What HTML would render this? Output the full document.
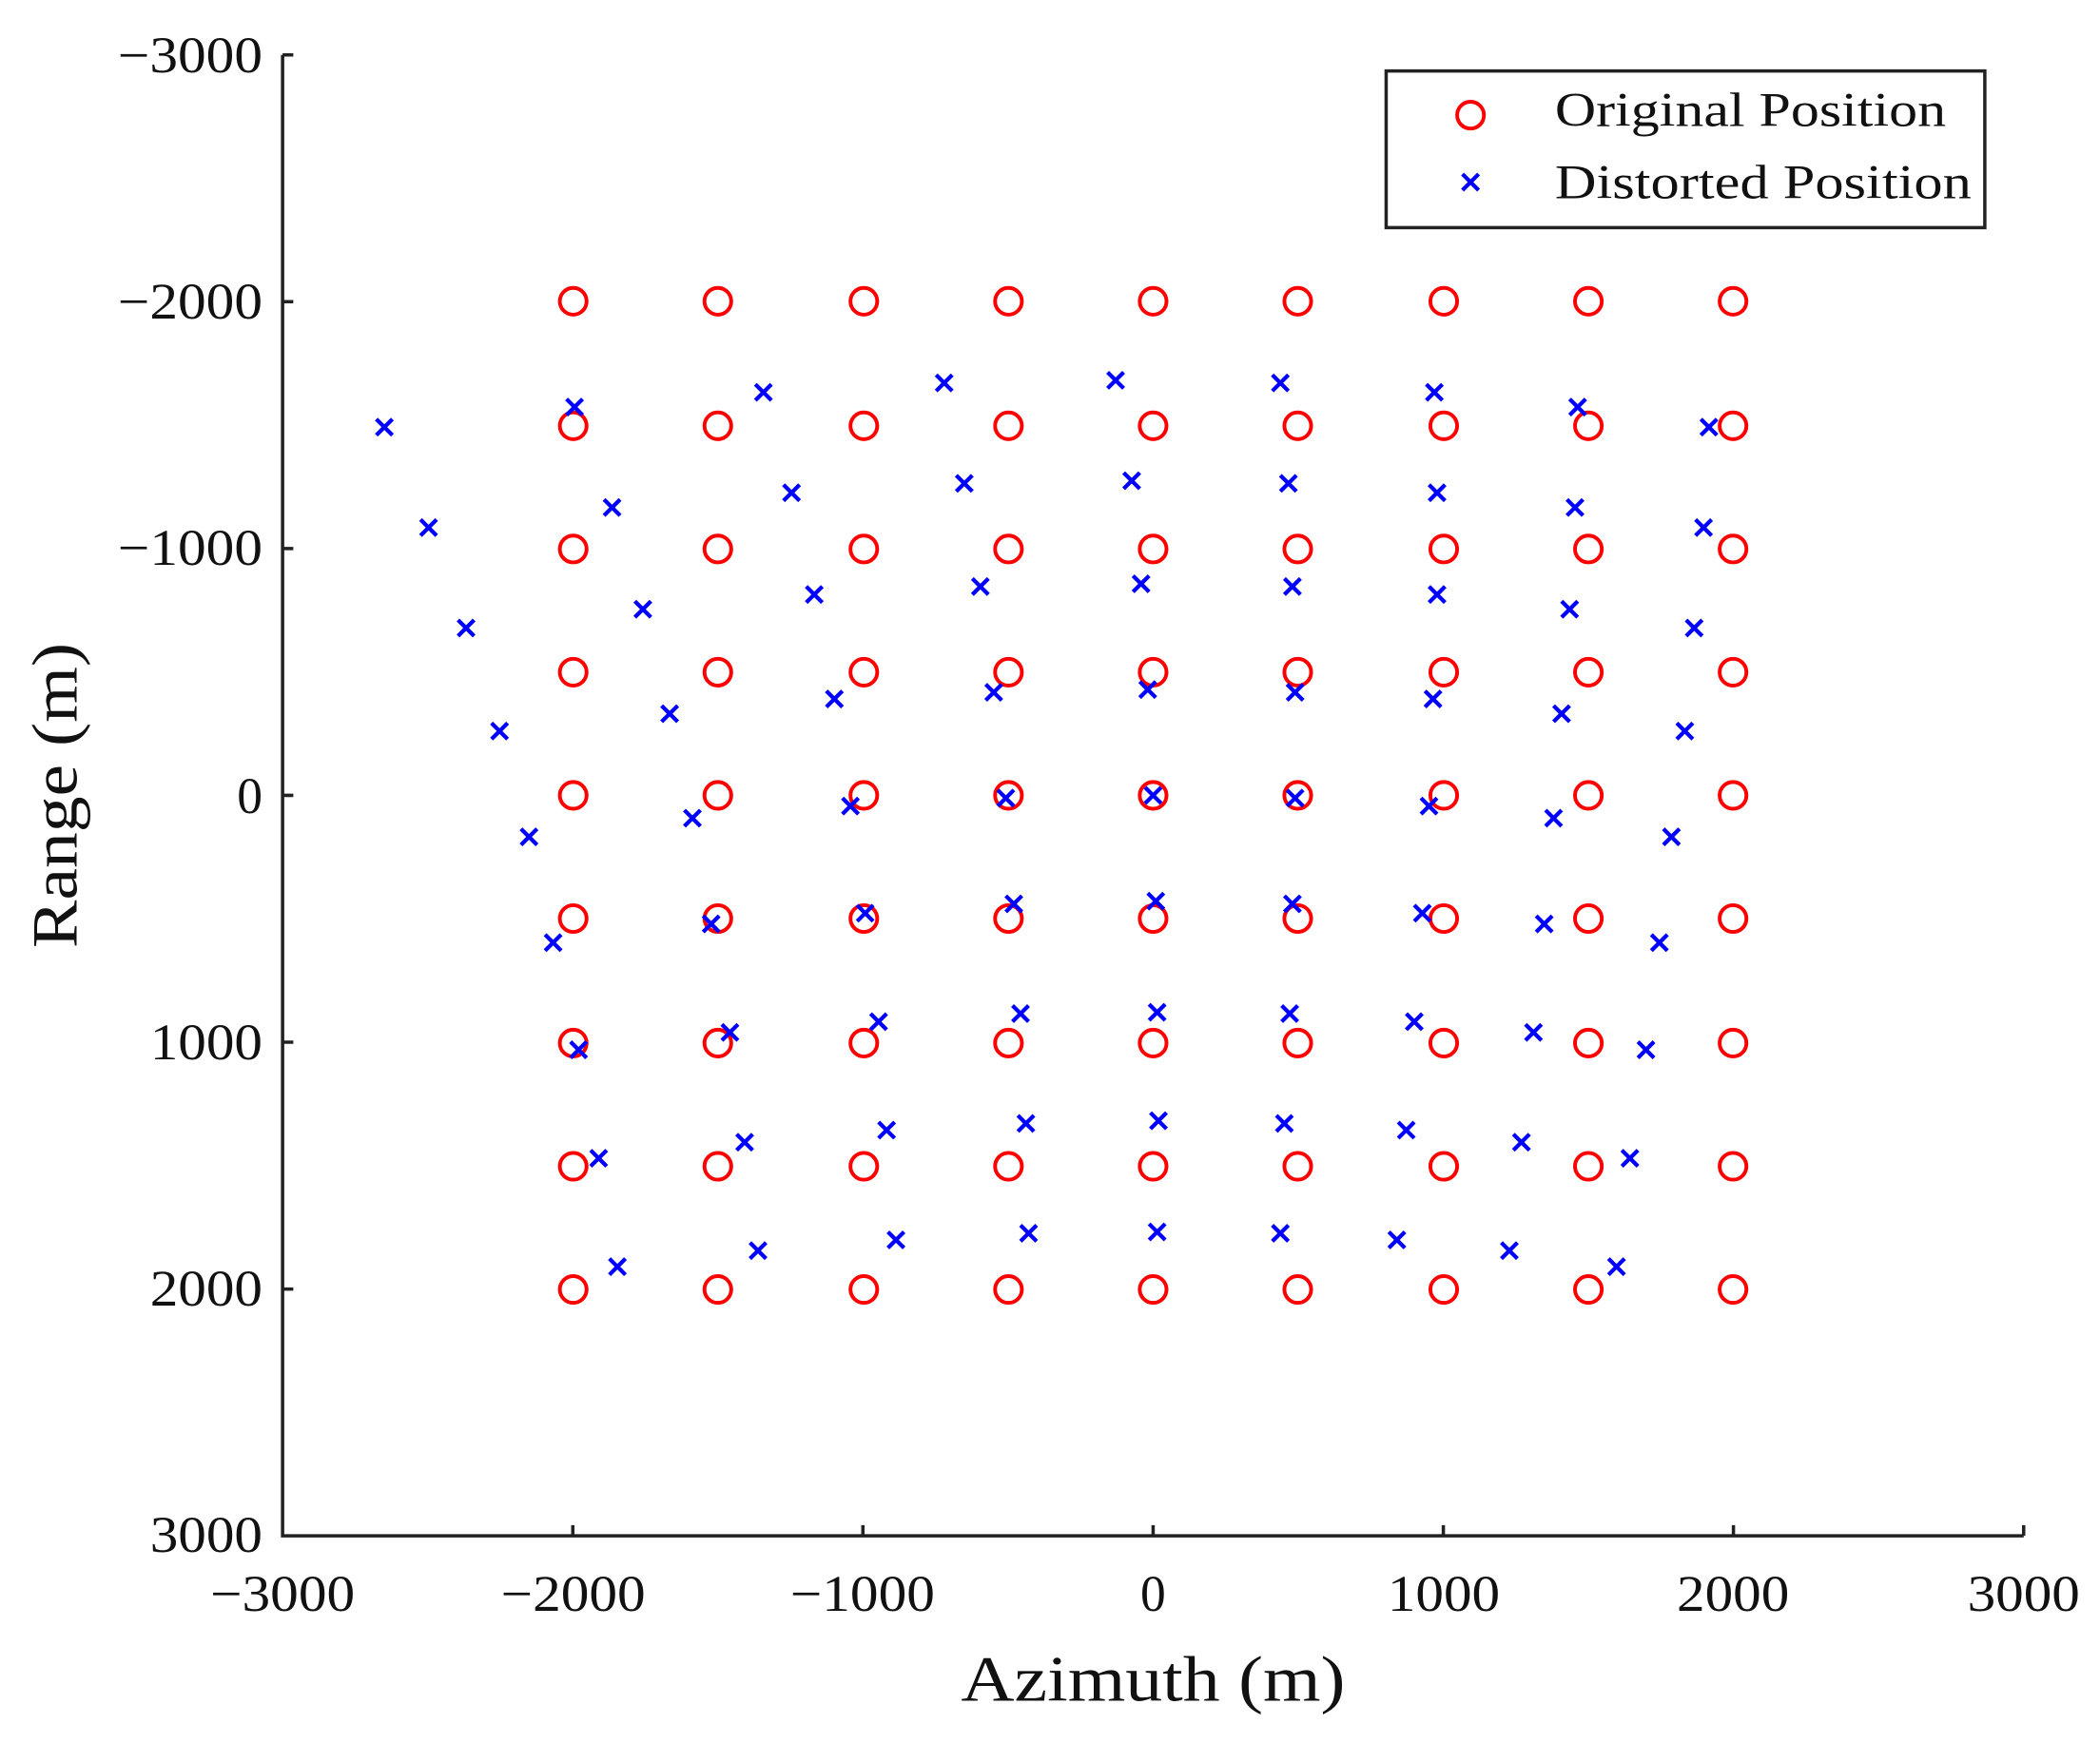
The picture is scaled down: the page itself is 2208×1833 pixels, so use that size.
<!DOCTYPE html>
<html><head><meta charset="utf-8"><style>html,body{margin:0;padding:0;background:#fff}svg{display:block}</style></head>
<body>
<svg width="2208" height="1833" viewBox="0 0 1568 1301.7" xmlns="http://www.w3.org/2000/svg" font-family="Liberation Serif, serif" fill="#111">
<g stroke="#222" stroke-width="2.5" fill="none">
<path d="M211,41 V1147 H1511"/>
<path d="M211,41h8M211,225.3h8M211,409.7h8M211,594h8M211,778.3h8M211,962.7h8"/>
<path d="M427.7,1147v-8M644.3,1147v-8M861,1147v-8M1077.7,1147v-8M1294.3,1147v-8M1511,1147v-8"/>
</g>
<g font-size="38" text-anchor="end" lengthAdjust="spacingAndGlyphs">
<text x="196" y="54" textLength="108" lengthAdjust="spacingAndGlyphs">−3000</text><text x="196" y="238" textLength="108" lengthAdjust="spacingAndGlyphs">−2000</text><text x="196" y="422" textLength="108" lengthAdjust="spacingAndGlyphs">−1000</text>
<text x="196" y="607">0</text><text x="196" y="791" textLength="84" lengthAdjust="spacingAndGlyphs">1000</text><text x="196" y="975" textLength="84" lengthAdjust="spacingAndGlyphs">2000</text><text x="196" y="1159" textLength="84" lengthAdjust="spacingAndGlyphs">3000</text>
</g>
<g font-size="38" text-anchor="middle">
<text x="211" y="1203" textLength="108" lengthAdjust="spacingAndGlyphs">−3000</text><text x="428" y="1203" textLength="108" lengthAdjust="spacingAndGlyphs">−2000</text><text x="644" y="1203" textLength="108" lengthAdjust="spacingAndGlyphs">−1000</text>
<text x="861" y="1203">0</text><text x="1078" y="1203" textLength="84" lengthAdjust="spacingAndGlyphs">1000</text><text x="1294" y="1203" textLength="84" lengthAdjust="spacingAndGlyphs">2000</text><text x="1511" y="1203" textLength="84" lengthAdjust="spacingAndGlyphs">3000</text>
</g>
<text x="861" y="1270" font-size="48" text-anchor="middle" textLength="287" lengthAdjust="spacingAndGlyphs">Azimuth (m)</text>
<text transform="translate(57,594) rotate(-90)" font-size="48" text-anchor="middle" textLength="228" lengthAdjust="spacingAndGlyphs">Range (m)</text>
<g id="circ" stroke="#f00" stroke-width="2.8" fill="none"></g>
<g id="crs" stroke="#00f" stroke-width="3" fill="none"></g>
<rect x="1035" y="53" width="447" height="117" fill="#fff" stroke="#222" stroke-width="2.5"/>
<circle cx="1098" cy="86" r="10" stroke="#f00" stroke-width="2.8" fill="none"/>
<path d="M1092,130l12,12M1104,130l-12,12" stroke="#00f" stroke-width="3"/>
<text x="1161" y="94" font-size="36" textLength="292" lengthAdjust="spacingAndGlyphs">Original Position</text>
<text x="1161" y="148" font-size="36" textLength="311" lengthAdjust="spacingAndGlyphs">Distorted Position</text>
<script>
var ns="http://www.w3.org/2000/svg";
var cg=document.getElementById('circ'),xg=document.getElementById('crs');
var xs=[428,536,645,753,861,969,1078,1186,1294],ys=[225,318,410,502,594,686,779,871,963];
xs.forEach(function(x){ys.forEach(function(y){var c=document.createElementNS(ns,'circle');c.setAttribute('cx',x);c.setAttribute('cy',y);c.setAttribute('r',10);cg.appendChild(c);});});
var P=[[287,319],[429,304],[570,293],[705,286],[833,284],[956,286],[1071,293],[1178,304],[1276,319],
[320,394],[457,379],[591,368],[720,361],[845,359],[962,361],[1073,368],[1176,379],[1272,394],
[348,469],[480,455],[608,444],[732,438],[852,436],[965,438],[1073,444],[1172,455],[1265,469],
[373,546],[500,533],[623,522],[742,517],[857,515],[967,517],[1070,522],[1166,533],[1258,546],
[395,625],[517,611],[635,602],[751,596],[861,594],[967,596],[1067,602],[1160,611],[1248,625],
[413,704],[531,690],[646,682],[757,675],[863,673],[965,675],[1062,682],[1153,690],[1239,704],
[432,784],[545,771],[656,763],[762,757],[864,756],[963,757],[1056,763],[1145,771],[1229,784],
[447,865],[556,853],[662,844],[766,839],[865,837],[959,839],[1050,844],[1136,853],[1217,865],
[461,946],[566,934],[669,926],[768,921],[864,920],[956,921],[1043,926],[1127,934],[1207,946]];
P.forEach(function(p){var e=document.createElementNS(ns,'path');var x=p[0],y=p[1];e.setAttribute('d','M'+(x-6)+','+(y-6)+'l12,12M'+(x+6)+','+(y-6)+'l-12,12');xg.appendChild(e);});
</script>
</svg>
</body></html>
